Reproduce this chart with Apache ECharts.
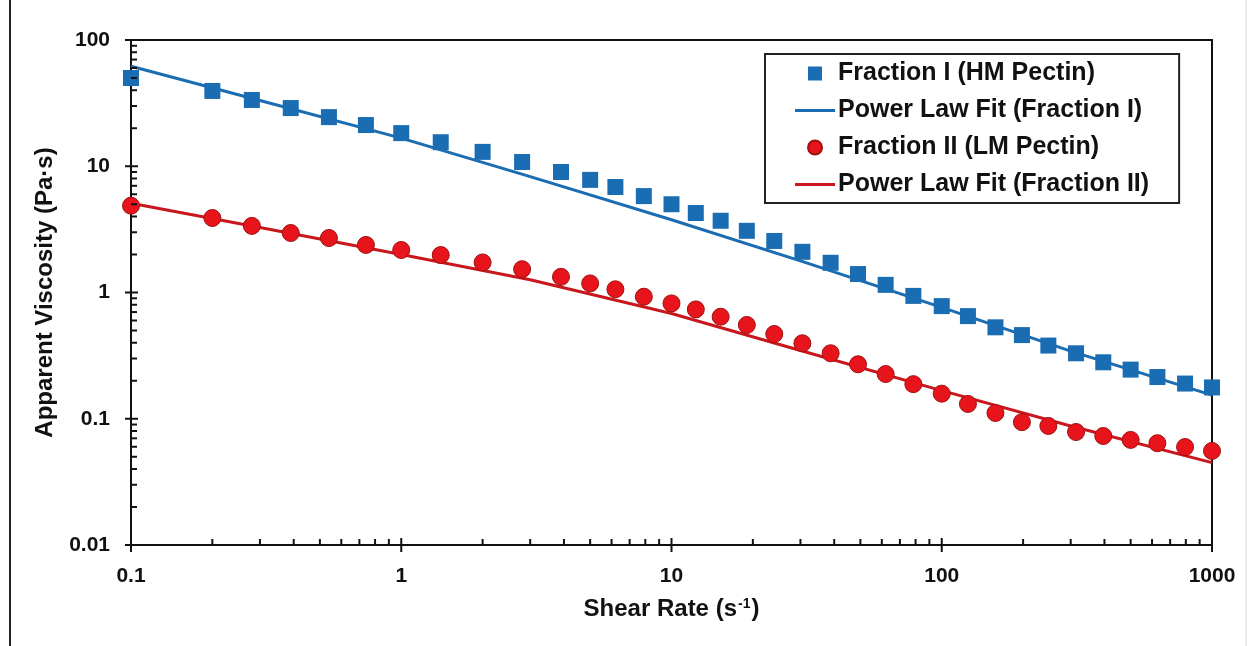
<!DOCTYPE html>
<html><head><meta charset="utf-8">
<script src="https://cdn.jsdelivr.net/npm/echarts@6/dist/echarts.min.js"></script>
<style>html,body{margin:0;padding:0;background:#fff}#c{width:1251px;height:646px}</style>
</head><body><div id="c"></div>
<script>
// ---- data ----
const shearRate = [0.1, 0.2, 0.28, 0.39, 0.54, 0.74, 1, 1.4, 2, 2.8, 3.9, 5, 6.2, 7.9, 10, 12.3, 15.2, 19, 24, 30.5, 38.8, 49, 62, 78.5, 100, 125, 158, 198, 248, 314, 396, 500, 628, 795, 1000];
const fraction1 = [50, 39.5, 33.5, 28.9, 24.5, 21.2, 18.3, 15.5, 13, 10.8, 9.0, 7.8, 6.85, 5.8, 5.0, 4.26, 3.7, 3.08, 2.56, 2.1, 1.72, 1.40, 1.15, 0.94, 0.78, 0.65, 0.53, 0.46, 0.38, 0.33, 0.28, 0.245, 0.214, 0.19, 0.177];
const fraction2 = [4.87, 3.89, 3.37, 2.96, 2.7, 2.38, 2.17, 1.98, 1.73, 1.53, 1.33, 1.18, 1.06, 0.926, 0.82, 0.735, 0.643, 0.553, 0.469, 0.396, 0.33, 0.27, 0.226, 0.188, 0.158, 0.131, 0.111, 0.094, 0.0877, 0.0785, 0.073, 0.068, 0.064, 0.0597, 0.0556];
const fitRate = [0.1, 0.3, 1, 3, 10, 30, 100, 300, 1000];
const fit1 = [62, 33.2, 16.7, 8.27, 3.77, 1.78, 0.762, 0.343, 0.154];
const fit2 = [5.1, 3.27, 2.0, 1.26, 0.682, 0.347, 0.167, 0.0877, 0.0449];
const xTickLabels = ['0.1', '1', '10', '100', '1000'];
const yTickLabels = ['0.01', '0.1', '1', '10', '100'];
const xDecades = [0.1, 1, 10, 100, 1000];
const yDecades = [0.01, 0.1, 1, 10, 100];
const minorSteps = [2, 3, 4, 5, 6, 7, 8, 9];
const seriesNames = ['Fraction I (HM Pectin)', 'Power Law Fit (Fraction I)', 'Fraction II (LM Pectin)', 'Power Law Fit (Fraction II)'];

const FONT = '"Liberation Sans", Arial, Helvetica, sans-serif';
const BLUE = '#1a6db3';
const RED = '#e8141c';
const RED_LINE = '#c8171d';
const INK = '#111';

// tick marks (axis decoration)
const xTicks = [], yTicks = [];
xDecades.forEach((d, i) => {
  xTicks.push([d, 0.01, 1]);
  if (i < xDecades.length - 1) minorSteps.forEach(m => xTicks.push([d * m, 0.01, 0]));
});
yDecades.forEach((d, i) => {
  yTicks.push([0.1, d, 1]);
  if (i < yDecades.length - 1) minorSteps.forEach(m => yTicks.push([0.1, d * m, 0]));
});

const SQUARE_ICON = 'path://M0,0 L10,0 L10,10 L0,10 Z';
const LINE_ICON = 'path://M0,0 L40,0 L40,3 L0,3 Z';

const chart = echarts.init(document.getElementById('c'), null, {renderer: 'canvas'});
chart.setOption({
  backgroundColor: '#fff',
  animation: false,
  grid: {left: 131, right: 39, top: 40, bottom: 101, show: true, borderColor: INK, borderWidth: 2, backgroundColor: 'transparent'},
  graphic: [
    {type: 'line', shape: {x1: 10, y1: 0, x2: 10, y2: 646}, style: {stroke: '#222', lineWidth: 2}},
    {type: 'line', shape: {x1: 1246, y1: 0, x2: 1246, y2: 646}, style: {stroke: '#ececec', lineWidth: 2}}
  ],
  legend: {
    orient: 'vertical', left: 765, top: 54,
    data: [
      {name: seriesNames[0], icon: SQUARE_ICON},
      {name: seriesNames[1], icon: LINE_ICON},
      {name: seriesNames[2], icon: 'circle'},
      {name: seriesNames[3], icon: LINE_ICON}
    ],
    symbolKeepAspect: true,
    itemWidth: 40, itemHeight: 14, itemGap: 12,
    padding: [7, 30, 6, 30],
    borderColor: '#222', borderWidth: 2, borderRadius: 0,
    backgroundColor: '#fff',
    textStyle: {fontFamily: FONT, fontSize: 25, fontWeight: 'bold', color: INK, padding: [0, 0, 0, -2]}
  },
  xAxis: {
    type: 'log', logBase: 10, min: 0.1, max: 1000,
    name: '{t|Shear Rate (s}{s|-1}{t|)}',
    nameLocation: 'middle', nameGap: 52,
    nameTextStyle: {rich: {
      t: {fontFamily: FONT, fontSize: 24, fontWeight: 'bold', color: INK},
      s: {fontFamily: FONT, fontSize: 14, fontWeight: 'bold', color: INK, verticalAlign: 'top', padding: [0, 1, 10, 1]}
    }},
    axisLine: {show: true, lineStyle: {color: INK, width: 2}},
    axisTick: {show: false},
    splitLine: {show: false},
    axisLabel: {fontFamily: FONT, fontSize: 21, fontWeight: 'bold', color: INK, margin: 21,
      formatter: v => xTickLabels[Math.round(Math.log10(v)) + 1]}
  },
  yAxis: {
    type: 'log', logBase: 10, min: 0.01, max: 100,
    name: 'Apparent Viscosity (Pa·s)',
    nameLocation: 'middle', nameGap: 74,
    nameTextStyle: {fontFamily: FONT, fontSize: 24, fontWeight: 'bold', color: INK},
    axisLine: {show: true, lineStyle: {color: INK, width: 2}},
    axisTick: {show: false},
    splitLine: {show: false},
    axisLabel: {fontFamily: FONT, fontSize: 21, fontWeight: 'bold', color: INK, margin: 21,
      formatter: v => yTickLabels[Math.round(Math.log10(v)) + 2]}
  },
  series: [
    {name: seriesNames[1], type: 'line', data: fitRate.map((x, i) => [x, fit1[i]]),
      symbol: 'none', showSymbol: false, lineStyle: {color: BLUE, width: 3}, itemStyle: {color: BLUE}, z: 2},
    {name: seriesNames[3], type: 'line', data: fitRate.map((x, i) => [x, fit2[i]]),
      symbol: 'none', showSymbol: false, lineStyle: {color: RED_LINE, width: 3}, itemStyle: {color: RED_LINE}, z: 2},
    {name: seriesNames[0], type: 'scatter', data: shearRate.map((x, i) => [x, fraction1[i]]),
      symbol: 'rect', symbolSize: 16, itemStyle: {color: BLUE, borderWidth: 0, opacity: 1}, z: 3},
    {name: seriesNames[2], type: 'scatter', data: shearRate.map((x, i) => [x, fraction2[i]]),
      symbol: 'circle', symbolSize: 17, itemStyle: {color: RED, borderColor: '#a01010', borderWidth: 1, opacity: 1}, z: 3},
    {type: 'custom', silent: true, z: 5, data: xTicks,
      renderItem: (params, api) => {
        const p = api.coord([api.value(0), api.value(1)]);
        const maj = api.value(2) === 1;
        return {type: 'line', shape: {x1: p[0], y1: p[1] + (maj ? 7 : 0), x2: p[0], y2: p[1] - (maj ? 7 : 6)},
          style: {stroke: INK, lineWidth: 2}};
      }},
    {type: 'custom', silent: true, z: 5, data: yTicks,
      renderItem: (params, api) => {
        const p = api.coord([api.value(0), api.value(1)]);
        const maj = api.value(2) === 1;
        return {type: 'line', shape: {x1: p[0] - (maj ? 6 : 0), y1: p[1], x2: p[0] + (maj ? 7 : 6), y2: p[1]},
          style: {stroke: INK, lineWidth: 2}};
      }}
  ]
});
</script>
</body></html>
